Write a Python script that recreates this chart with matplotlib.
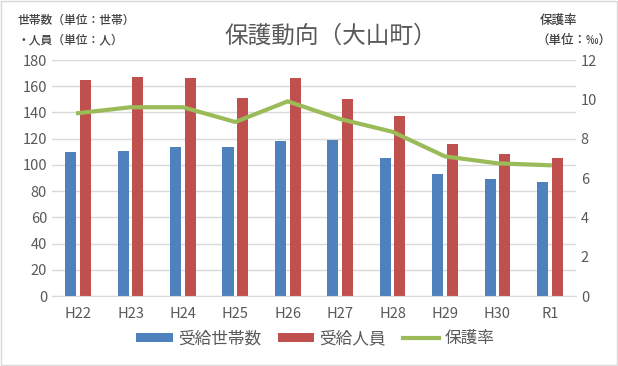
import numpy as np
import matplotlib.pyplot as plt

plt.rcParams['font.family'] = ['Noto Sans CJK JP', 'DejaVu Sans']

years = ["H22", "H23", "H24", "H25", "H26", "H27", "H28", "H29", "H30", "R1"]
households = [110, 111, 114, 114, 118, 119, 105, 93, 89, 87]
persons = [165, 167, 166, 151, 166, 150, 137, 116, 108, 105]
rate = [9.3, 9.6, 9.6, 8.85, 9.9, 9.0, 8.35, 7.1, 6.75, 6.65]

gray = "#595959"
blue = "#4F81BD"
red = "#C0504D"
green = "#9BBB59"

fig = plt.figure(figsize=(6.18, 3.66), dpi=100)
ax = fig.add_axes([0.084, 0.191, 0.848, 0.645])
ax2 = ax.twinx()

x = np.arange(len(years))
w = 0.21
ax.bar(x - 0.14, households, w, color=blue, label="受給世帯数", zorder=2)
ax.bar(x + 0.14, persons, w, color=red, label="受給人員", zorder=2)
ax2.plot(x, rate, color=green, lw=3, label="保護率", zorder=3)

ax.set_ylim(0, 180)
ax.set_yticks(range(0, 181, 20))
ax2.set_ylim(0, 12)
ax2.set_yticks(range(0, 13, 2))
ax.set_xlim(-0.5, len(years) - 0.5)
ax.set_xticks(x)
ax.set_xticklabels(years)

ax.grid(axis="y", color="#D9D9D9", lw=1, zorder=0)
for a in (ax, ax2):
    for s in a.spines.values():
        s.set_visible(False)
    a.tick_params(length=0, colors=gray, labelsize=10.5)
ax.spines["bottom"].set_visible(True)
ax.spines["bottom"].set_color("#D9D9D9")
ax.tick_params(axis="x", pad=8)

fig.text(0.535, 0.902, "保護動向（大山町）", ha="center", va="center", fontsize=17, color=gray)
fig.text(0.028, 0.945, "世帯数（単位：世帯）", ha="left", va="center", fontsize=8.5,
         color="#404040", fontweight="medium")
fig.text(0.028, 0.89, "・人員（単位：人）", ha="left", va="center", fontsize=8.5,
         color="#404040", fontweight="medium")
fig.text(0.874, 0.945, "保護率", ha="left", va="center", fontsize=9, color="#404040",
         fontweight="medium")
fig.text(0.868, 0.89, "（単位：‰）", ha="left", va="center", fontsize=9, color="#404040",
         fontweight="medium")

h1, l1 = ax.get_legend_handles_labels()
h2, l2 = ax2.get_legend_handles_labels()
leg = fig.legend(h1 + h2, l1 + l2, loc="center", bbox_to_anchor=(0.51, 0.075), ncol=3,
                 frameon=False, fontsize=12, handlelength=2.2, handleheight=0.45,
                 columnspacing=1.0, handletextpad=0.3)
for t in leg.get_texts():
    t.set_color(gray)

fig.patches.append(plt.Rectangle((0.002, 0.003), 0.996, 0.994, transform=fig.transFigure,
                                 fill=False, edgecolor="#D9D9D9", lw=1))

fig.savefig("out.png", dpi=100)
